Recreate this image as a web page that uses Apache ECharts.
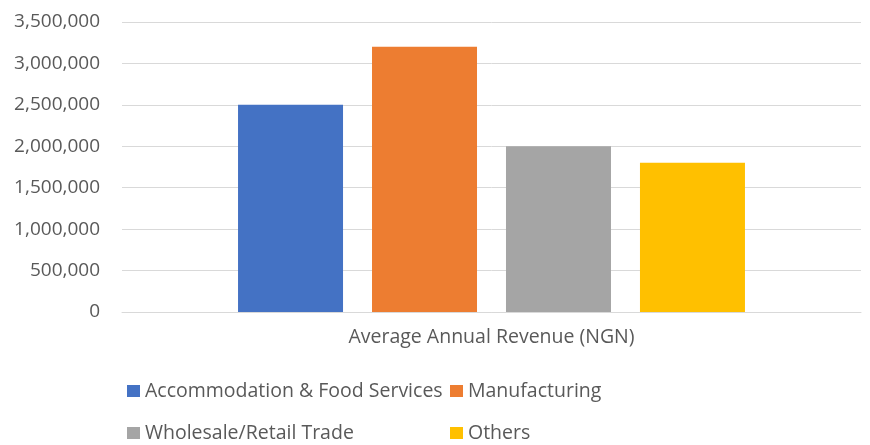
<!DOCTYPE html>
<html>
<head>
<meta charset="utf-8">
<script src="https://cdn.jsdelivr.net/npm/echarts@6/dist/echarts.min.js"></script>
<style>
  html, body { margin: 0; padding: 0; background: #ffffff; }
  #chart { width: 870px; height: 445px; }
</style>
</head>
<body>
<div id="chart"></div>
<script>
// Average annual revenue by sector (NGN)
const categories = ['Average Annual Revenue (NGN)'];
const seriesNames = ['Accommodation & Food Services', 'Manufacturing', 'Wholesale/Retail Trade', 'Others'];
const revenueAccommodation = [2500000];
const revenueManufacturing = [3200000];
const revenueWholesale = [2000000];
const revenueOthers = [1800000];
const yTicks = { min: 0, max: 3500000, interval: 500000 };

const seriesValues = [revenueAccommodation, revenueManufacturing, revenueWholesale, revenueOthers];
const colors = ['#4472C4', '#ED7D31', '#A5A5A5', '#FFC000'];
const FONT = 'Open Sans';
const TEXT_COLOR = '#595959';

const chart = echarts.init(document.getElementById('chart'), null, { renderer: 'canvas' });

// One legend per entry so the two rows line up as columns
const legendPos = [[127, 380], [450, 380], [127, 422], [450, 422]];
const legends = seriesNames.map((name, i) => ({
  data: [name],
  left: legendPos[i][0],
  top: legendPos[i][1],
  padding: 0,
  itemWidth: 13,
  itemHeight: 12,
  itemGap: 0,
  icon: 'rect',
  textStyle: { fontFamily: FONT, fontSize: 19.5, color: TEXT_COLOR, lineHeight: 22 }
}));

chart.setOption({
  backgroundColor: '#ffffff',
  animation: false,
  color: colors,
  legend: legends,
  grid: { left: 122, right: 9, top: 22, bottom: 133, containLabel: false },
  xAxis: {
    type: 'category',
    data: categories,
    axisLine: { lineStyle: { color: '#d9d9d9', width: 1 } },
    axisTick: { show: false },
    axisLabel: { fontFamily: FONT, fontSize: 19.5, color: TEXT_COLOR, margin: 15 }
  },
  yAxis: {
    type: 'value',
    min: yTicks.min,
    max: yTicks.max,
    interval: yTicks.interval,
    axisLine: { show: false },
    axisTick: { show: false },
    splitLine: { lineStyle: { color: '#d9d9d9', width: 1 } },
    axisLabel: {
      fontFamily: FONT, fontSize: 19, color: TEXT_COLOR, margin: 22,
      formatter: v => v.toLocaleString('en-US')
    }
  },
  series: seriesNames.map((name, i) => ({
    name: name,
    type: 'bar',
    data: seriesValues[i],
    barWidth: 105,
    barGap: '27.6%'
  }))
});
</script>
</body>
</html>
